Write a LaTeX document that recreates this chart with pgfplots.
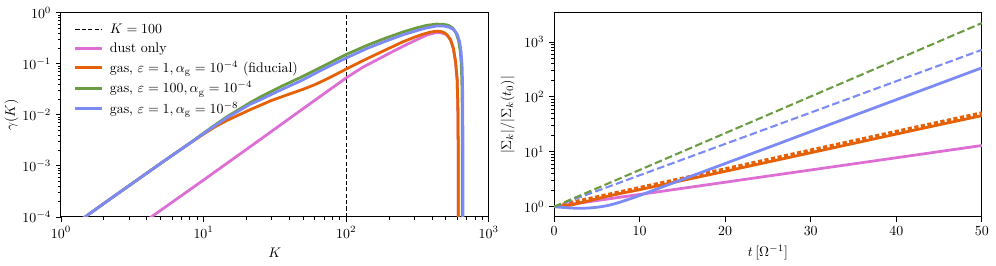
\documentclass[border=0pt]{standalone}
\usepackage{pgfplots}
\pgfplotsset{compat=1.18}
\definecolor{cpink}{RGB}{220,110,212}
\definecolor{corange}{RGB}{230,97,5}
\definecolor{cgreen}{RGB}{108,156,66}
\definecolor{cblue}{RGB}{124,138,245}
\pgfplotsset{
  every axis/.append style={
    scale only axis, width=308pt, height=147pt,
    tick align=outside, tick pos=left,
    major tick length=3.5pt, minor tick length=2pt,
    every tick/.style={black, line width=0.6pt},
    axis line style={line width=0.7pt},
    label style={font=\normalsize},
  },
}
\begin{document}
\begin{tikzpicture}
\useasboundingbox (-43.9pt,-34.6pt) rectangle (673.2pt,156.2pt);
\begin{axis}[
  at={(0pt,0pt)}, anchor=south west,
  xmode=log, ymode=log,
  xmin=1, xmax=1000, ymin=1e-4, ymax=1,
  xlabel={$K$}, ylabel={$\gamma(K)$}, ylabel shift=-4pt,
  legend cell align=left,
  legend style={draw=none, fill=none, at={(0.02,0.975)}, anchor=north west, row sep=1.1pt,
    /tikz/every odd column/.append style={column sep=2.5pt}},
  legend image code/.code={\draw[#1] (0cm,0cm) -- (0.68cm,0cm);},
  clip=true,
]
\addplot[black, line width=0.8pt, dash pattern=on 3pt off 1.6pt] coordinates {(100,1e-4) (100,1)};
\addlegendentry{$K=100$}
\addplot[cpink, line width=2pt] coordinates {
(4,8.5e-5) (4.3,1e-4) (10,5.3e-4) (25,3.3e-3) (50,0.0133) (100,0.053) (130,0.085) (160,0.115)
(200,0.16) (250,0.22) (315,0.30) (370,0.37) (420,0.405) (460,0.405) (500,0.38) (540,0.30)
(565,0.2) (585,0.11) (600,0.048) (607,0.014) (610,0.003) (612,1e-5)};
\addlegendentry{dust only}
\addplot[corange, line width=2pt] coordinates {
(1.4,9.0e-5) (2,1.84e-4) (3,4.1e-4) (5,1.12e-3) (7,2.15e-3) (8.5,3.1e-3) (10,4.2e-3) (12,5.8e-3)
(14.6,7.8e-3) (21.3,0.0127) (30,0.0192) (40,0.0256) (50,0.0318) (60,0.0389) (70,0.0475)
(85,0.0624) (100,0.079) (120,0.102) (140,0.126) (174,0.168) (210,0.215) (250,0.27) (299,0.33)
(340,0.375) (380,0.41) (410,0.428) (436,0.435) (465,0.428) (490,0.405) (515,0.36) (540,0.29)
(565,0.2) (585,0.11) (600,0.05) (607,0.015) (610,0.003) (612,1e-5)};
\addlegendentry{gas, $\varepsilon=1, \alpha_{\mathrm{g}}=10^{-4}$ (fiducial)}
\addplot[cgreen, line width=2pt] coordinates {
(1.4,9.0e-5) (2,1.84e-4) (3,4.1e-4) (5,1.12e-3) (7,2.15e-3) (8.5,3.15e-3) (10,4.4e-3) (12,6.3e-3)
(14.6,9.2e-3) (21.3,0.0175) (25,0.0224) (35,0.036) (47.8,0.054) (70,0.092) (100,0.152) (140,0.23)
(184,0.31) (250,0.42) (315,0.51) (370,0.57) (430,0.6) (480,0.595) (520,0.57) (560,0.5) (590,0.4)
(615,0.28) (630,0.18) (640,0.11) (647,0.05) (651,0.015) (653,1e-5)};
\addlegendentry{gas, $\varepsilon=100, \alpha_{\mathrm{g}}=10^{-4}$}
\addplot[cblue, line width=2pt] coordinates {
(1.4,9.0e-5) (2,1.84e-4) (3,4.1e-4) (5,1.12e-3) (7,2.15e-3) (8.5,3.12e-3) (10,4.3e-3) (12,6.1e-3)
(14.6,8.8e-3) (21.3,0.0162) (25,0.0198) (35,0.031) (47.8,0.046) (70,0.08) (100,0.13) (140,0.2)
(184,0.27) (250,0.37) (315,0.45) (370,0.51) (430,0.55) (480,0.55) (530,0.52) (570,0.46) (600,0.38)
(625,0.27) (640,0.17) (650,0.09) (655,0.04) (658,0.01) (660,1e-5)};
\addlegendentry{gas, $\varepsilon=1, \alpha_{\mathrm{g}}=10^{-8}$}
\end{axis}
\begin{axis}[
  at={(355pt,0pt)}, anchor=south west,
  ymode=log,
  xmin=0, xmax=50, ymin=0.65, ymax=3400,
  xtick={0,10,20,30,40,50},
  ytick={1,10,100,1000},
  xlabel={$t\,[\Omega^{-1}]$}, ylabel={$|\Sigma_k|/|\Sigma_k(t_0)|$},
  clip=true,
]
\addplot[cpink, line width=2pt] coordinates {(0,1) (10,1.67) (20,2.79) (30,4.66) (40,7.78) (50,13.0)};
\addplot[corange, line width=2pt] coordinates {
(0.5,1.0) (2,1.07) (4,1.27) (6,1.52) (8,1.77) (10,2.04) (15,3.0) (20,4.4) (25,6.5) (30,9.6)
(35,14.2) (40,21) (45,31) (50,45.5)};
\addplot[corange, line width=2.4pt, dash pattern=on 3pt off 1.8pt] coordinates {
(1,1.1) (10,2.22) (20,4.86) (30,10.7) (40,23.4) (50,51)};
\addplot[cblue, line width=2pt, smooth] coordinates {
(0,1.0) (1,0.97) (2,0.945) (3,0.935) (4,0.945) (5,0.975) (6,1.03) (7,1.12) (8,1.25) (9,1.41)
(10,1.6) (15,3.13) (20,6.11) (25,11.9) (30,23.3) (35,45.5) (40,88.8) (45,173) (50,338)};
\addplot[cblue, line width=1.5pt, dash pattern=on 5.5pt off 2.4pt] coordinates {
(0,1) (10,3.73) (20,13.9) (30,51.7) (40,193) (50,718)};
\addplot[cgreen, line width=1.5pt, dash pattern=on 5.5pt off 2.4pt] coordinates {
(0,1) (10,4.66) (20,21.8) (30,101.6) (40,474) (50,2210)};
\end{axis}
\end{tikzpicture}
\end{document}
